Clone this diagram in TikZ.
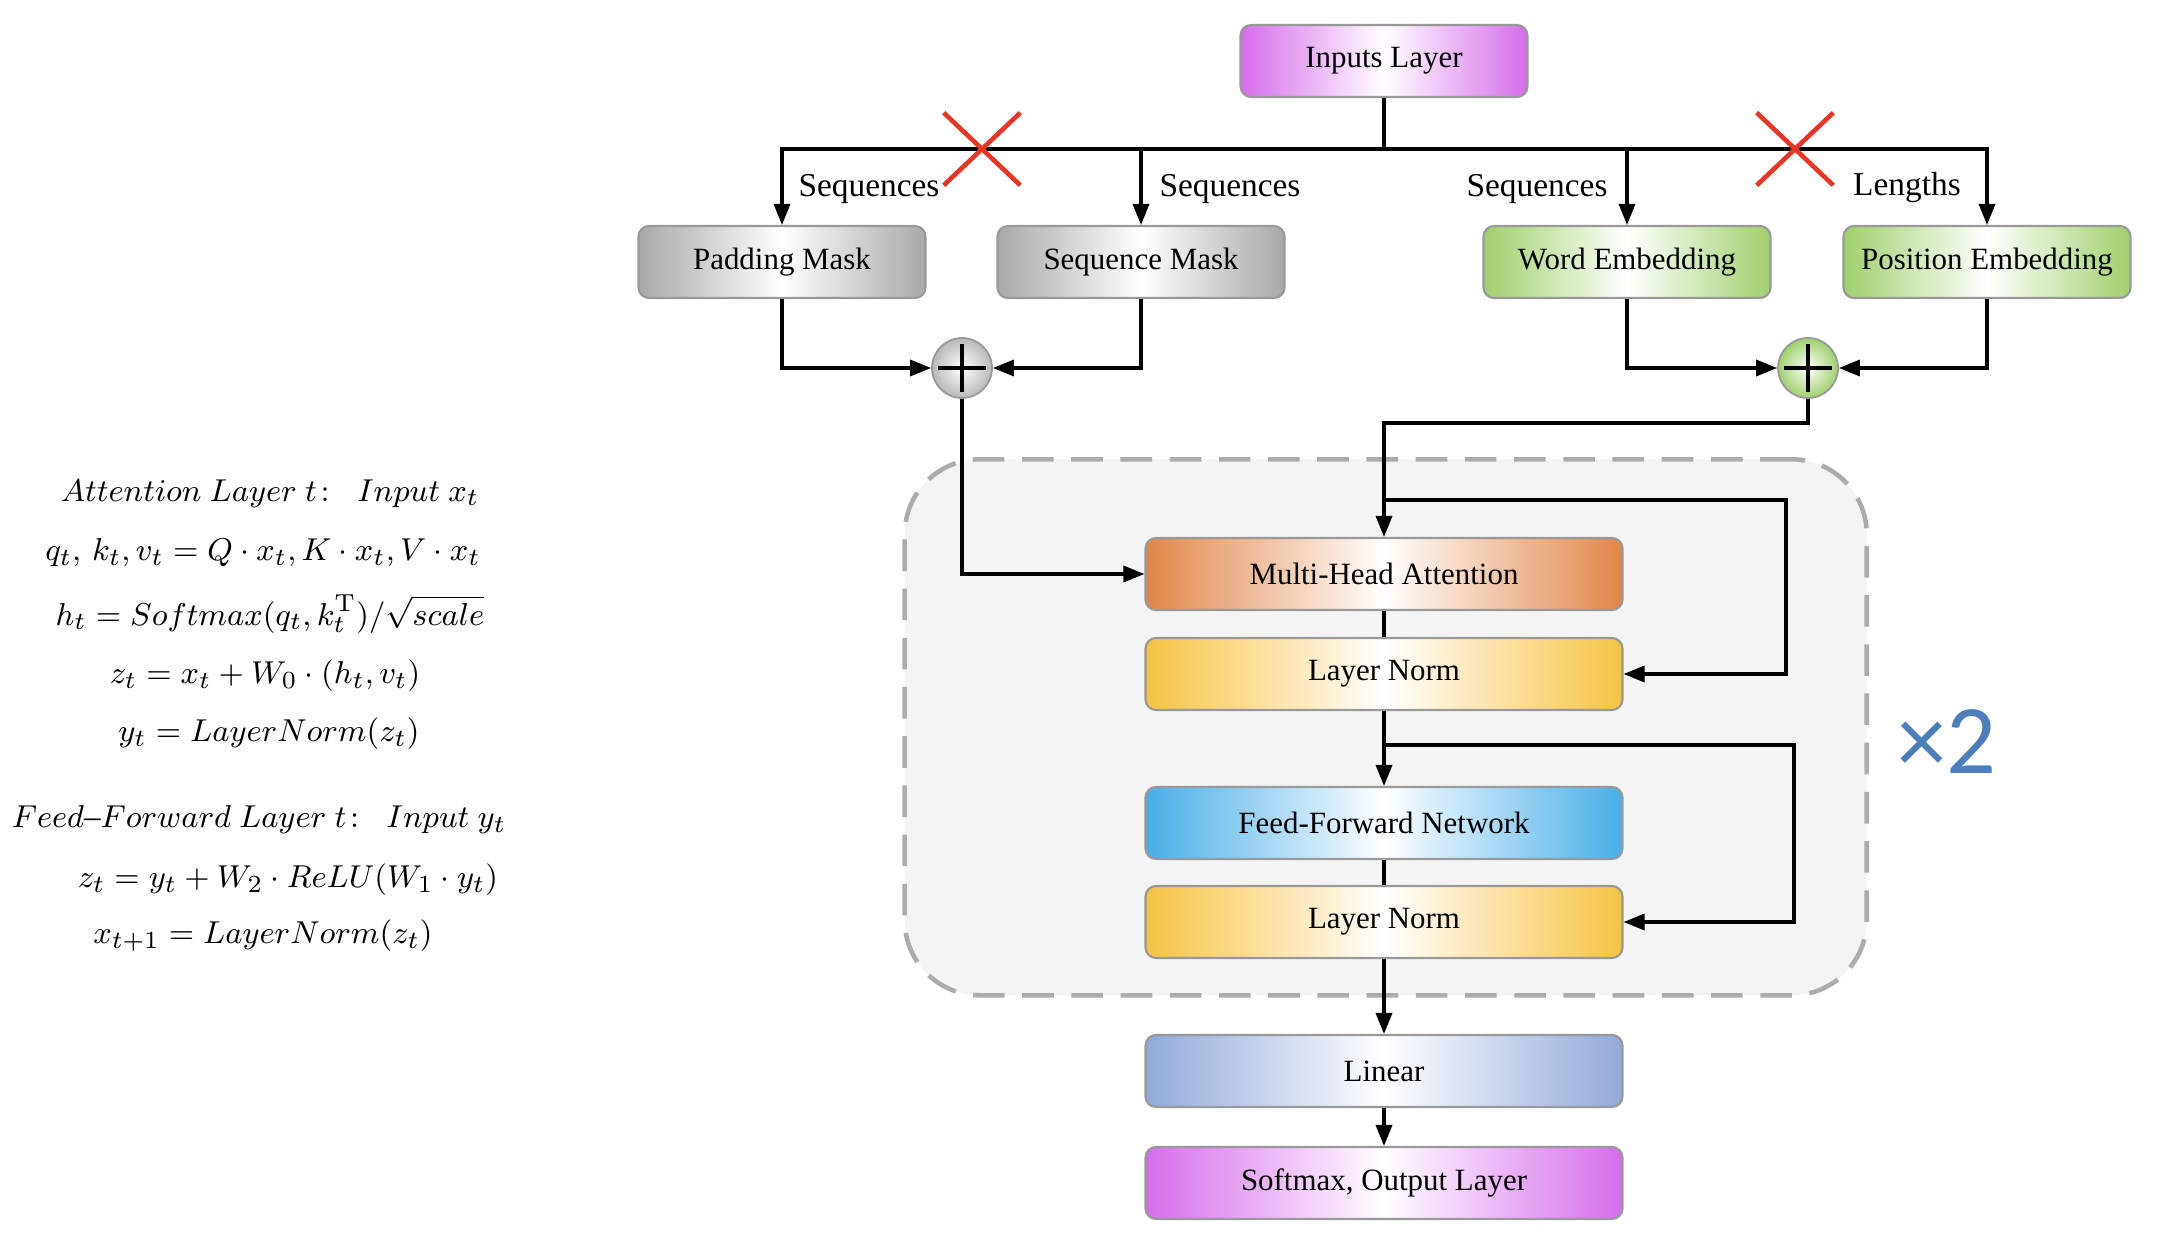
\documentclass[tikz,border=0pt]{standalone}
\usepackage{amsmath}
\usepackage[no-math]{fontspec}
\setmainfont{Liberation Serif}
\newfontfamily\repfont{Carlito}
\usetikzlibrary{arrows.meta,shapes.misc}
\definecolor{inpurple}{RGB}{214,108,236}
\definecolor{maskgray}{RGB}{168,168,168}
\definecolor{embgreen}{RGB}{160,208,108}
\definecolor{attorange}{RGB}{226,134,72}
\definecolor{normyellow}{RGB}{246,196,68}
\definecolor{ffnblue}{RGB}{72,174,232}
\definecolor{linblue}{RGB}{146,170,216}
\definecolor{crossred}{RGB}{236,52,36}
\definecolor{repblue}{RGB}{76,126,186}
\definecolor{blockgray}{RGB}{244,244,244}
\begin{document}
\begin{tikzpicture}[
	layer/.style={draw=gray!80, rounded corners=3pt, line width=0.6pt,
		minimum width=2.87cm, minimum height=0.72cm, font=\fontsize{8.8}{10}\selectfont},
	tint/.style={left color=#1, right color=#1, middle color=white},
	wide/.style={minimum width=4.77cm},
	adder/.style={circle, draw=gray!80, line width=0.5pt, minimum size=0.6cm, inner sep=0pt,
		path picture={\draw[draw=black, line width=1.1pt]
			([xshift=-0.24cm]path picture bounding box.center) -- ([xshift=0.24cm]path picture bounding box.center)
			([yshift=-0.24cm]path picture bounding box.center) -- ([yshift=0.24cm]path picture bounding box.center);}},
	block/.style={draw=gray!65, fill=blockgray, line width=1.3pt, dash pattern=on 9pt off 5pt,
		rounded corners=0.75cm, minimum width=9.62cm, minimum height=5.36cm},
	arr/.style={-{Triangle[length=6pt,width=4.6pt]}, line width=0.9pt},
	link/.style={line width=0.9pt},
	cut/.style={cross out, draw=crossred, line width=1.3pt, minimum width=0.72cm,
		minimum height=0.68cm, inner sep=0pt},
	lbl/.style={font=\fontsize{9.5}{11}\selectfont},
	eq/.style={font=\fontsize{9.4}{11}\selectfont, inner sep=0.5pt}]

	\useasboundingbox (0,0) rectangle (21.62,-12.5);

	\node[block] (block) at (13.857,-7.273) {};

	\node[layer, tint=inpurple] (inputs) at (13.84,-0.61) {Inputs Layer};
	\node[layer, tint=maskgray] (pad) at (7.82,-2.62) {Padding Mask};
	\node[layer, tint=maskgray] (seqm) at (11.41,-2.62) {Sequence Mask};
	\node[layer, tint=embgreen] (word) at (16.27,-2.62) {Word Embedding};
	\node[layer, tint=embgreen] (pos) at (19.87,-2.62) {Position Embedding};

	\node[adder, inner color=white, outer color=gray!55] (addL) at (9.62,-3.68) {};
	\node[adder, inner color=white, outer color=embgreen] (addR) at (18.08,-3.68) {};

	\node[layer, wide, tint=attorange] (mha) at (13.84,-5.74) {Multi-Head Attention};
	\node[layer, wide, tint=normyellow] (ln1) at (13.84,-6.74) {Layer Norm};
	\node[layer, wide, tint=ffnblue] (ffn) at (13.84,-8.23) {Feed-Forward Network};
	\node[layer, wide, tint=normyellow] (ln2) at (13.84,-9.22) {Layer Norm};
	\node[layer, wide, tint=linblue] (lin) at (13.84,-10.71) {Linear};
	\node[layer, wide, tint=inpurple] (out) at (13.84,-11.83) {Softmax, Output Layer};

	\coordinate (bus) at (13.84,-1.49);
	\coordinate (join) at (13.84,-4.23);
	\coordinate (res1) at (13.84,-5.0);
	\coordinate (res1r) at (17.86,-5.0);
	\coordinate (res2) at (13.84,-7.45);
	\coordinate (res2r) at (17.94,-7.45);

	\draw[link] (inputs.south) -- (bus);
	\draw[arr] (bus) -| (pad.north);
	\draw[arr] (bus) -| (seqm.north);
	\draw[arr] (bus) -| (word.north);
	\draw[arr] (bus) -| (pos.north);

	\draw[arr] (pad.south) |- (addL.west);
	\draw[arr] (seqm.south) |- (addL.east);
	\draw[arr] (word.south) |- (addR.west);
	\draw[arr] (pos.south) |- (addR.east);

	\draw[arr] (addL.south) |- (mha.west);
	\draw[arr] (addR.south) |- (join) -- (mha.north);
	\draw[arr] (res1) -- (res1r) |- (ln1.east);
	\draw[link] (mha.south) -- (ln1.north);
	\draw[arr] (ln1.south) -- (ffn.north);
	\draw[arr] (res2) -- (res2r) |- (ln2.east);
	\draw[link] (ffn.south) -- (ln2.north);
	\draw[arr] (ln2.south) -- (lin.north);
	\draw[arr] (lin.south) -- (out.north);

	\node[cut] (cutL) at (9.82,-1.49) {};
	\node[cut] (cutR) at (17.95,-1.49) {};

	\node[lbl] (lblA) at (8.69,-1.89) {Sequences};
	\node[lbl] (lblB) at (12.30,-1.89) {Sequences};
	\node[lbl] (lblC) at (15.37,-1.89) {Sequences};
	\node[lbl] (lblD) at (19.07,-1.875) {Lengths};

	\node[font=\repfont\fontsize{28}{30}\selectfont, text=repblue] (rep) at (19.47,-7.42) {×2};

	\node[eq] (eqA) at (2.70,-4.94) {$Attention\ Layer\ t\colon\ \ Input\ x_t$};
	\node[eq] (eqB) at (2.63,-5.53) {$q_t,\, k_t, v_t = Q\cdot x_t, K\cdot x_t, V\cdot x_t$};
	\node[eq] (eqC) at (2.70,-6.14) {$h_t = Softmax(q_t, k_t^{\mathrm{T}})/\sqrt{scale}$};
	\node[eq] (eqD) at (2.65,-6.76) {$z_t = x_t + W_0\cdot(h_t, v_t)$};
	\node[eq] (eqE) at (2.69,-7.34) {$y_t = LayerNorm(z_t)$};
	\node[eq] (eqF) at (2.59,-8.20) {$Feed\text{--}Forward\ Layer\ t\colon\ \ Input\ y_t$};
	\node[eq] (eqG) at (2.88,-8.80) {$z_t = y_t + W_2\cdot ReLU(W_1\cdot y_t)$};
	\node[eq] (eqH) at (2.63,-9.36) {$x_{t+1} = LayerNorm(z_t)$};
\end{tikzpicture}
\end{document}
